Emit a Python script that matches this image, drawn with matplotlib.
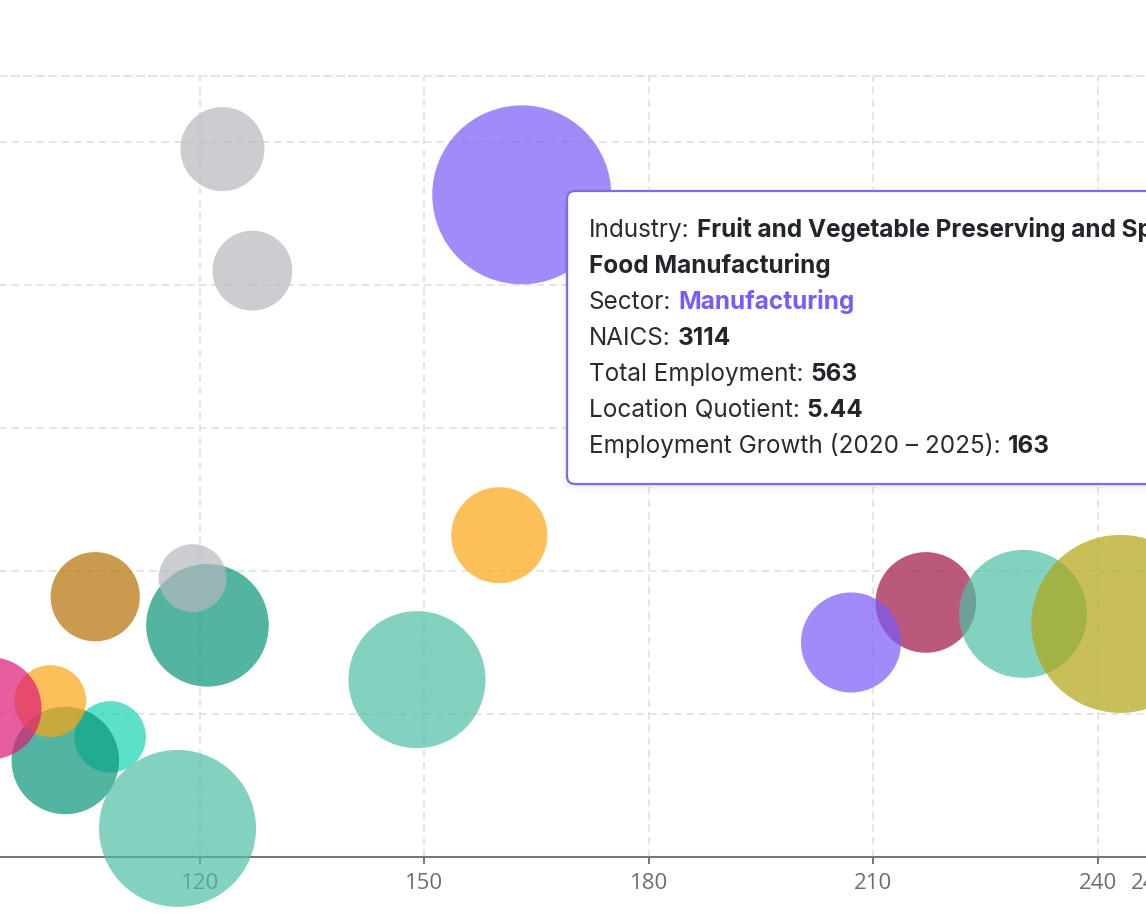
import matplotlib
matplotlib.use("Agg")
import matplotlib.pyplot as plt
from matplotlib.patches import FancyBboxPatch

W, H = 1146, 918
plt.rcParams["font.family"] = ["Open Sans", "DejaVu Sans"]

# employment growth (x), location quotient (y, in grid units), total employment (size)
growth = [123, 127, 163, 160, 106, 121, 119, 149, 108, 102, 100, 92, 117, 217, 207, 230, 243]
lq = [4.95, 4.10, 4.63, 2.25, 1.82, 1.62, 1.95, 1.24, 0.84, 0.675, 1.09, 1.04, 0.20,
      1.78, 1.50, 1.70, 1.63]
employment = [124, 112, 563, 162, 140, 264, 81, 330, 90, 203, 91, 183, 433, 178, 176, 288, 557]
sector = ["Other Services", "Other Services", "Manufacturing", "Accommodation and Food Services",
          "Construction", "Health Care and Social Assistance", "Other Services", "Retail Trade",
          "Educational Services", "Health Care and Social Assistance",
          "Accommodation and Food Services", "Finance and Insurance", "Retail Trade",
          "Transportation and Warehousing", "Manufacturing", "Retail Trade",
          "Agriculture, Forestry, Fishing and Hunting"]

x_ticks = [120, 150, 180, 210, 240, 247]

tooltip_rows = [
    ("Industry:", "Fruit and Vegetable Preserving and Specialty"),
    ("", "Food Manufacturing"),
    ("Sector:", "Manufacturing"),
    ("NAICS:", "3114"),
    ("Total Employment:", "563"),
    ("Location Quotient:", "5.44"),
    ("Employment Growth (2020 \u2013 2025):", "163"),
]

SECTOR_COLORS = {
    "Manufacturing": "#7a5af8",
    "Other Services": "#b5b8bc",
    "Accommodation and Food Services": "#fba513",
    "Construction": "#b47005",
    "Health Care and Social Assistance": "#08957a",
    "Retail Trade": "#4fbfa5",
    "Educational Services": "#18d3b1",
    "Finance and Insurance": "#de1a76",
    "Transportation and Warehousing": "#9e1344",
    "Agriculture, Forestry, Fishing and Hunting": "#b2a513",
}
SIZE_REF = 29.5   # points^2 per employee
GRID = "#dde1e4"
AXIS = "#767676"
TIP_FONT = ["Inter", "DejaVu Sans"]

fig = plt.figure(figsize=(W / 100, H / 100), dpi=100)
ax = fig.add_axes([-100 / W, 61 / H, 1350 / W, 781 / H])

ax.scatter(growth, lq, s=[e * SIZE_REF for e in employment],
           c=[SECTOR_COLORS[s] for s in sector], alpha=0.7, linewidths=0,
           clip_on=False, zorder=3)

ax.set_xlim(79.91, 260.32)
ax.set_ylim(0, 5.461)
ax.set_xticks(x_ticks)
ax.set_xticklabels([str(t) for t in x_ticks])
ax.set_yticks([1, 2, 3, 4, 5])
ax.tick_params(axis="y", length=0, labelleft=False)
ax.tick_params(axis="x", length=5, width=1.4, color=AXIS, labelcolor="#6e6e6e",
               labelsize=16, pad=6.5)
ax.grid(True, color=GRID, linestyle=(0, (4.5, 3)), linewidth=1.2)
ax.set_axisbelow(True)
for side in ["left", "right"]:
    ax.spines[side].set_visible(False)
ax.spines["bottom"].set_color(AXIS)
ax.spines["bottom"].set_linewidth(1.5)
ax.spines["top"].set_color(GRID)
ax.spines["top"].set_linestyle((0, (4.5, 3)))
ax.spines["top"].set_linewidth(1.2)


# tooltip, placed in pixel space (inches = px / 100)
def ix(px):
    return px / 100


def iy(py):
    return (H - py) / 100


tr = fig.dpi_scale_trans
left, top, bottom, right = 567, 191, 484, 1320
for k, a in enumerate([0.025, 0.02, 0.015, 0.01]):
    off = 2 + 2 * k
    sh = FancyBboxPatch((ix(left - off / 2), iy(bottom + off)), ix(right - left + off),
                        (bottom - top) / 100, boxstyle="round,pad=0,rounding_size=0.1",
                        transform=tr, facecolor="black", edgecolor="none", alpha=a,
                        clip_on=False, zorder=9)
    ax.add_patch(sh)
box = FancyBboxPatch((ix(left), iy(bottom)), ix(right - left), (bottom - top) / 100,
                     boxstyle="round,pad=0,rounding_size=0.08", transform=tr,
                     facecolor="white", edgecolor="#7d6cea", linewidth=1.6,
                     clip_on=False, zorder=10)
ax.add_patch(box)

FS = 17.5
for i, (label, value) in enumerate(tooltip_rows):
    base = 237.3 + 36 * i
    vcolor = SECTOR_COLORS["Manufacturing"] if label == "Sector:" else "#22252a"
    if label:
        t = ax.text(ix(589), iy(base), label, transform=tr, fontsize=FS, color="#2b2b2b",
                    family=TIP_FONT, va="baseline", ha="left", zorder=11, clip_on=False)
        ax.annotate(value, xy=(1, 0), xycoords=t, xytext=(5, 0), textcoords="offset points",
                    fontsize=FS, fontweight="bold", family=TIP_FONT, color=vcolor,
                    va="bottom", ha="left", zorder=11, annotation_clip=False)
    else:
        ax.text(ix(589), iy(base), value, transform=tr, fontsize=FS, fontweight="bold",
                family=TIP_FONT, color=vcolor, va="baseline", ha="left", zorder=11,
                clip_on=False)

fig.savefig("out.png", dpi=100)
